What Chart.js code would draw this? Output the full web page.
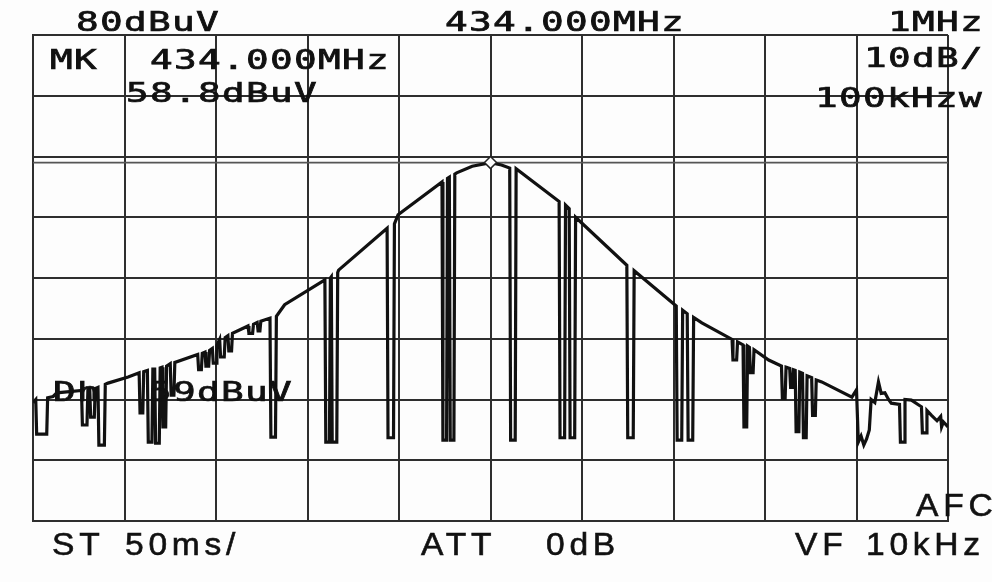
<!DOCTYPE html>
<html>
<head>
<meta charset="utf-8">
<script src="https://cdn.jsdelivr.net/npm/chart.js@4"></script>
<style>
    body { margin: 0; background: #fdfdfd; }
    #wrap { position: relative; width: 992px; height: 582px; }
    .lbl {
        position: absolute;
        font-family: 'DejaVu Sans Mono', monospace;
        font-size: 26px;
        line-height: 26px;
        color: #111;
        letter-spacing: 0.9px;
        white-space: pre;
        -webkit-text-stroke: 0.7px #111;
        transform: scaleX(1.45);
        transform-origin: left top;
    }
    .lbl.sans {
        font-family: 'Liberation Sans', sans-serif;
        font-size: 32px;
        line-height: 32px;
        letter-spacing: 4.5px;
        -webkit-text-stroke: 0.6px #111;
        transform: scaleX(1.05);
    }
</style>
</head>
<body>
<div id="wrap">
    <canvas id="spectrum"></canvas>
</div>
<script>
// Trace data: offset from 434.000 MHz (kHz) and level (dBuV)
const offsetKHz = [
    -500, -497, -496, -485, -484, -478, -474, -447, -446, -441, -440, -438, -437, -433, -432,
    -429, -428, -422, -421, -418, -396, -384, -383, -380, -379, -375, -374, -370, -369, -367,
    -366, -362, -361, -359, -358, -355, -354, -350, -349, -346, -345, -320, -319, -316, -315,
    -312, -311, -308, -307, -304, -303, -300, -299, -296, -295, -291, -290, -287, -286, -283,
    -282, -265, -264, -260, -259, -255, -254, -252, -251, -241, -240, -235, -234, -225, -181,
    -180, -176, -175, -174, -173, -168, -167, -166, -113, -112, -106, -105, -101, -53, -52,
    -48, -47, -45, -44, -40, -39, -37, -20, 0, 12, 21, 22, 27, 28, 75,
    76, 81, 82, 86, 87, 92, 93, 149, 150, 156, 157, 203, 204, 209, 210,
    215, 216, 221, 222, 231, 264, 265, 269, 270, 276, 277, 280, 281, 283, 284,
    287, 288, 304, 318, 319, 322, 323, 327, 328, 330, 331, 333, 334, 337, 338,
    341, 342, 345, 346, 351, 352, 355, 356, 362, 395, 400, 402, 405, 408, 411,
    414, 416, 420, 424, 427, 431, 435, 438, 447, 448, 452, 453, 460, 468, 471,
    472, 476, 477, 482, 488, 492, 493, 495, 500
];
const levelDbuv = [
    19.5, 20.0, 14.3, 14.3, 20.3, 20.5, 21.1, 21.5, 15.8, 15.8, 21.6, 21.7, 17.1, 17.1, 21.8,
    22.0, 12.5, 12.5, 22.5, 22.7, 23.7, 24.4, 17.8, 17.8, 24.6, 24.8, 13.0, 13.0, 25.0, 25.0,
    12.8, 12.8, 25.2, 25.3, 15.5, 15.5, 25.5, 25.9, 20.7, 20.7, 26.1, 27.4, 24.9, 24.9, 27.6,
    27.8, 25.5, 25.5, 28.1, 28.4, 26.0, 26.0, 28.9, 29.9, 27.0, 27.0, 30.2, 30.5, 28.0, 28.0,
    30.9, 32.1, 30.9, 30.9, 32.4, 32.7, 31.3, 31.3, 32.9, 33.4, 13.8, 13.8, 33.7, 35.6, 39.7,
    13.0, 13.0, 40.0, 40.2, 13.0, 13.0, 40.9, 41.3, 48.2, 13.7, 13.7, 48.9, 50.4, 55.8, 13.3,
    13.3, 56.4, 56.6, 13.3, 13.3, 57.1, 57.3, 58.4, 59.0, 58.6, 58.1, 13.3, 13.3, 58.0, 52.6,
    13.7, 13.7, 52.0, 51.4, 13.7, 13.7, 50.0, 42.1, 13.7, 13.7, 41.2, 35.4, 13.3, 13.3, 34.7,
    34.1, 13.3, 13.3, 33.5, 32.6, 29.9, 26.5, 26.5, 29.5, 29.0, 15.5, 15.5, 28.8, 28.6, 24.4,
    24.4, 28.2, 26.5, 25.5, 20.2, 20.2, 25.3, 25.1, 22.0, 22.0, 24.9, 24.8, 14.7, 14.7, 24.5,
    24.3, 13.7, 13.7, 23.9, 23.6, 17.4, 17.4, 23.2, 22.9, 20.4, 21.6, 13.0, 14.0, 12.5, 13.5,
    15.0, 20.0, 19.5, 22.9, 21.0, 21.1, 20.0, 19.4, 19.2, 13.0, 13.0, 20.0, 19.9, 19.1, 18.8,
    14.5, 14.5, 18.2, 17.4, 16.5, 17.2, 15.5, 16.3, 15.5
];
const markerKHz = [0];
const markerDbuv = [59.0];
const displayLineDbuv = 59;
const spanKHz = [-500, 500];
const levelRange = [0, 80];

// Screen annotations (left, top in px)
const labels = [
    { text: '80dBuV', x: 76, y: 9 },
    { text: '434.000MHz', x: 445, y: 9 },
    { text: '1MHz', x: 888, y: 9 },
    { text: 'MK', x: 50, y: 47 },
    { text: '434.000MHz', x: 150, y: 47 },
    { text: '10dB/', x: 864, y: 45 },
    { text: '58.8dBuV', x: 126, y: 80 },
    { text: '100kHzw', x: 815, y: 85 },
    { text: 'Dh  59dBuV', x: 53, y: 379 },
    { text: 'AFC', x: 916, y: 489, sans: true },
    { text: 'ST', x: 52, y: 528, sans: true },
    { text: '50ms/', x: 125, y: 528, sans: true },
    { text: 'ATT', x: 421, y: 528, sans: true },
    { text: '0dB', x: 546, y: 528, sans: true },
    { text: 'VF', x: 795, y: 528, sans: true },
    { text: '10kHz', x: 866, y: 528, sans: true }
];

const wrap = document.getElementById('wrap');
labels.forEach(function(l) {
    const d = document.createElement('div');
    d.className = 'lbl' + (l.sans ? ' sans' : '');
    d.textContent = l.text;
    d.style.left = l.x + 'px';
    d.style.top = l.y + 'px';
    wrap.appendChild(d);
});

const gridColor = '#2e2e2e';

new Chart(document.getElementById('spectrum').getContext('2d'), {
    type: 'line',
    data: {
        datasets: [
            {
                label: 'Marker',
                data: markerKHz.map((x, i) => ({ x: x, y: markerDbuv[i] })),
                showLine: false,
                pointStyle: 'rectRot',
                pointRadius: 6,
                backgroundColor: '#fdfdfd',
                borderColor: '#222',
                borderWidth: 1.5,
                order: 0
            },
            {
                label: 'Trace',
                data: offsetKHz.map((x, i) => ({ x: x, y: levelDbuv[i] })),
                borderColor: '#111',
                borderWidth: 3.2,
                pointRadius: 0,
                tension: 0,
                order: 1
            },
            {
                label: 'Display line',
                data: spanKHz.map(x => ({ x: x, y: displayLineDbuv })),
                borderColor: '#555',
                borderWidth: 1.6,
                pointRadius: 0,
                order: 2
            }
        ]
    },
    options: {
        responsive: true,
        maintainAspectRatio: false,
        animation: false,
        layout: { padding: { left: 33, right: 44, top: 35, bottom: 61 } },
        plugins: {
            legend: { display: false },
            tooltip: { enabled: false }
        },
        scales: {
            x: {
                type: 'linear',
                min: spanKHz[0],
                max: spanKHz[1],
                ticks: { display: false, stepSize: 100 },
                grid: { color: gridColor, lineWidth: 2, drawTicks: false },
                border: { display: true, color: gridColor, width: 2 }
            },
            y: {
                min: levelRange[0],
                max: levelRange[1],
                ticks: { display: false, stepSize: 10 },
                grid: { color: gridColor, lineWidth: 2, drawTicks: false },
                border: { display: true, color: gridColor, width: 2 }
            }
        }
    }
});
</script>
</body>
</html>
